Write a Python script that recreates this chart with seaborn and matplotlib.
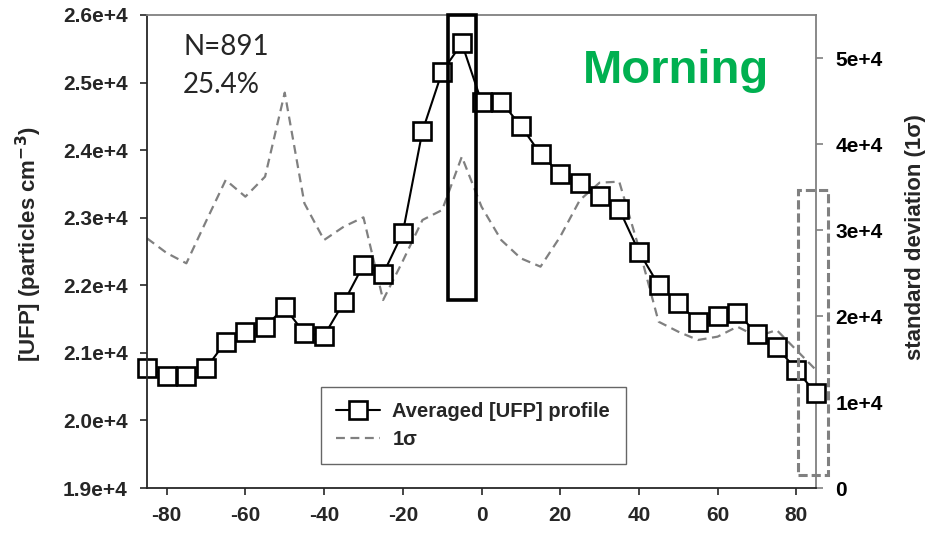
import matplotlib
matplotlib.use("Agg")
import matplotlib.pyplot as plt
import numpy as np
import pandas as pd
import seaborn as sns
from matplotlib.patches import Rectangle

# ---------------- data ----------------
distance = list(range(-85, 90, 5))
ufp_profile = [20780, 20657, 20657, 20771, 21165, 21313, 21387, 21674, 21289, 21254,
               21748, 22300, 22167, 22778, 24283, 25161, 25581, 24717, 24717, 24357,
               23943, 23647, 23519, 23321, 23124, 22497, 22004, 21733, 21461, 21550,
               21594, 21279, 21091, 20746, 20401]
sigma = [29035, 27326, 26128, 31008, 35814, 33876, 36202, 45969, 33101, 28837,
         30388, 31473, 21860, 26395, 31163, 32326, 38527, 32713, 28837, 26705,
         25736, 29225, 33488, 35504, 35620, 27907, 19337, 18174, 17209, 17597,
         18759, 17597, 18372, 16047, 13721]

left_ticks = [19000, 20000, 21000, 22000, 23000, 24000, 25000, 26000]
left_labels = ["1.9e+4", "2.0e+4", "2.1e+4", "2.2e+4", "2.3e+4", "2.4e+4", "2.5e+4", "2.6e+4"]
right_ticks = [0, 10000, 20000, 30000, 40000, 50000]
right_labels = ["0", "1e+4", "2e+4", "3e+4", "4e+4", "5e+4"]
x_ticks = [-80, -60, -40, -20, 0, 20, 40, 60, 80]

# highlighted regions (annotation boxes)
peak_box = (-8.5, 21780, 7.0, 4220)
edge_box = (80.4, 19190, 7.6, 4220)

series_labels = ["Averaged [UFP] profile", "1\u03c3"]

df = pd.DataFrame({"distance": distance, "ufp": ufp_profile, "sigma": sigma})

# ---------------- style ----------------
sns.set_style("ticks")
plt.rcParams["font.family"] = ["Liberation Sans", "DejaVu Sans"]
plt.rcParams["font.weight"] = "bold"
plt.rcParams["mathtext.default"] = "bf"

W, H = 930, 533
fig = plt.figure(figsize=(W / 100, H / 100), dpi=100)
ax = fig.add_axes([147 / W, 1 - 488 / H, 669 / W, 473 / H])
ax2 = ax.twinx()

grey = "#808080"

sns.lineplot(data=df, x="distance", y="sigma", ax=ax2, color=grey, lw=1.6,
             linestyle=(0, (4, 2.5)), label=series_labels[1], legend=False)
sns.lineplot(data=df, x="distance", y="ufp", ax=ax, color="black", lw=1.5,
             marker="s", markersize=13.5, markerfacecolor="white",
             markeredgecolor="black", markeredgewidth=1.9,
             label=series_labels[0], legend=False)
for ln in ax.get_lines():
    ln.set_clip_on(False)

ax.set_zorder(ax2.get_zorder() + 1)
ax.patch.set_visible(False)

ax.set_xlim(-85, 85)
ax.set_ylim(19000, 26000)
ax2.set_ylim(0, 55000)

ax.set_xticks(x_ticks)
ax.set_xticklabels([str(v) for v in x_ticks])
ax.set_yticks(left_ticks)
ax.set_yticklabels(left_labels)
ax2.set_yticks(right_ticks)
ax2.set_yticklabels(right_labels)

ax.set_xlabel("")
ax.set_ylabel("[UFP] (particles cm$^{-3}$)", fontsize=16, fontweight="bold",
              ha="center", va="center")
ax.yaxis.set_label_coords(-0.176, 0.515)
ax2.set_ylabel("standard deviation (1\u03c3)", fontsize=16, fontweight="bold",
               ha="center", va="center", rotation=90)
ax2.yaxis.set_label_coords(1.148, 0.53)

for a in (ax, ax2):
    a.tick_params(axis="both", labelsize=15, width=1.2, length=5, pad=9)
    for lab in a.get_xticklabels() + a.get_yticklabels():
        lab.set_fontweight("bold")
ax.tick_params(axis="x", pad=8)
ax2.tick_params(axis="y", colors=grey, labelcolor="black")

ax.spines["right"].set_visible(False)
ax.spines["top"].set_color(grey)
ax.spines["top"].set_linewidth(1.3)
ax.spines["left"].set_linewidth(1.3)
ax.spines["bottom"].set_linewidth(1.3)
ax2.spines["left"].set_visible(False)
ax2.spines["bottom"].set_visible(False)
ax2.spines["top"].set_visible(False)
ax2.spines["right"].set_color(grey)
ax2.spines["right"].set_linewidth(1.3)

# annotation rectangles
ax.add_patch(Rectangle(peak_box[:2], peak_box[2], peak_box[3], fill=False,
                       ec="black", lw=2.6, clip_on=False, zorder=5))
ax.add_patch(Rectangle(edge_box[:2], edge_box[2], edge_box[3], fill=False,
                       ec=grey, lw=2.2, ls=(0, (3, 1.3)), clip_on=False, zorder=5))

# texts
ax.text(0.054, 0.9154, "N=891", transform=ax.transAxes, fontsize=20,
        fontweight="normal", family=["Lato", "DejaVu Sans"], va="baseline")
ax.text(0.054, 0.835, "25.4%", transform=ax.transAxes, fontsize=20,
        fontweight="normal", family=["Lato", "DejaVu Sans"], va="baseline")
ax.text(0.652, 0.856, "Morning", transform=ax.transAxes, fontsize=34,
        fontweight="bold", color="#00B050", va="baseline")

# legend
h1 = ax.get_lines()[0]
h2 = ax2.get_lines()[0]
leg = ax.legend(handles=[h1, h2], labels=series_labels,
                bbox_to_anchor=(321 / W, 1 - 471 / H, 305 / W, 84 / H),
                bbox_transform=fig.transFigure, loc="upper left", mode="expand",
                frameon=True, fancybox=False, fontsize=14.5, borderpad=0.75,
                labelspacing=0.45, handlelength=2.2, handletextpad=0.6,
                borderaxespad=0)
leg.get_frame().set_edgecolor("#404040")
leg.get_frame().set_linewidth(1.0)
for t in leg.get_texts():
    t.set_fontweight("bold")

fig.savefig("out.png", dpi=100)
